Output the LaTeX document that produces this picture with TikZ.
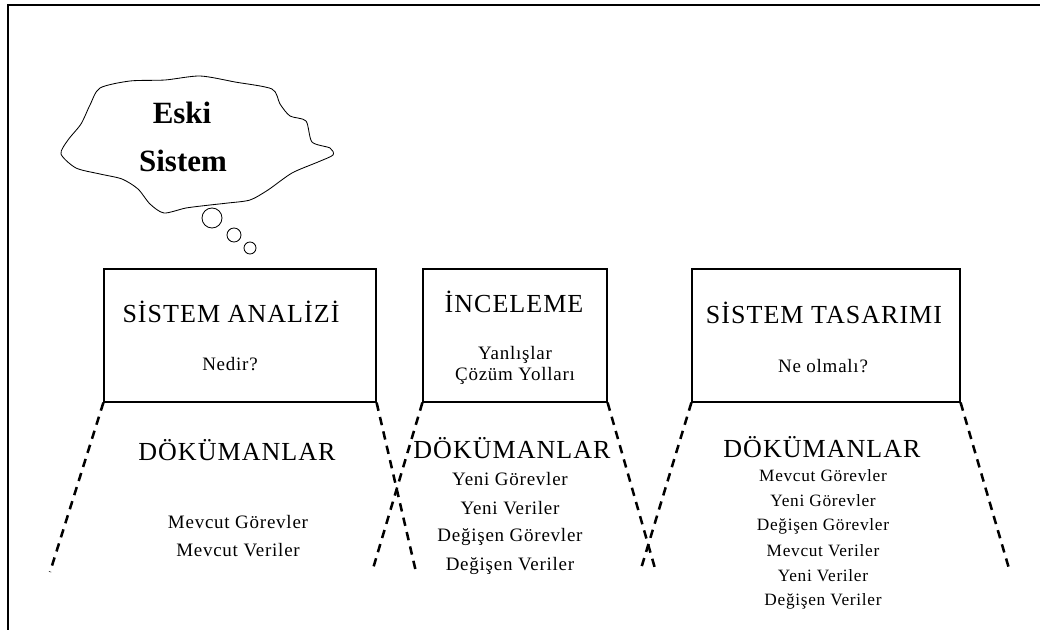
\documentclass[tikz,border=0pt]{standalone}
\usepackage{fontspec}
\setmainfont{Liberation Serif}
\newfontfamily\genis[LetterSpace=4]{Liberation Serif}

\tikzset{
  asama/.style={draw, line width=0.8pt, inner sep=0pt},
  baslik/.style={font=\genis\fontsize{18.5}{21}\selectfont},
  dokuman/.style={font=\genis\fontsize{18.5}{21}\selectfont},
  madde/.style={font=\genis\fontsize{13.5}{16}\selectfont},
  kucuk/.style={font=\genis\fontsize{12.3}{15}\selectfont},
  kesik/.style={line width=1.8pt, dash pattern=on 6pt off 4.5pt},
}

\begin{document}
\begin{tikzpicture}[x=0.025cm, y=-0.025cm]%
\useasboundingbox (0,0) rectangle (1040,630);%
% frame
\draw[line width=1.4pt] (8,630) -- (8,5) -- (1040,5);%
% cloud
\draw[line width=0.6pt] plot[smooth cycle, tension=0.45] coordinates {%
(100,88) (130,81) (165,80) (200,76) (235,82) (272,89) (280,104) (290,116)
(306,121) (312,142) (330,148) (333,155) (318,162) (292,173) (268,190)
(250,200) (228,203) (210,205) (186,208) (164,213) (150,204) (138,189)
(122,179) (100,174) (76,168) (61,154) (68,140) (81,124) (90,105)};%
\node[font=\bfseries\fontsize{22}{26}\selectfont] (eski) at (182,113) {Eski};%
\node[font=\bfseries\fontsize{22}{26}\selectfont] (sistem) at (183,161) {Sistem};%
\draw[line width=0.6pt] (212,218) circle (10);%
\draw[line width=0.6pt] (234,235) circle (7);%
\draw[line width=0.6pt] (250,248) circle (6);%
% boxes
\node[asama, minimum width=6.8cm, minimum height=3.325cm] (analiz) at (240,335.5) {};%
\node[asama, minimum width=4.6cm, minimum height=3.325cm] (inceleme) at (515,335.5) {};%
\node[asama, minimum width=6.7cm, minimum height=3.325cm] (tasarim) at (826,335.5) {};%
\node[baslik] (t1) at (231,312) {SİSTEM ANALİZİ};%
\node[madde] (n1) at (230,364) {Nedir?};%
\node[baslik] (t2) at (514,302) {İNCELEME};%
\node[madde] (n2a) at (515,355) {Yanlışlar};%
\node[madde] (n2b) at (515,376) {Çözüm Yolları};%
\node[baslik] (t3) at (824,313) {SİSTEM TASARIMI};%
\node[madde] (n3) at (823,366) {Ne olmalı?};%
% dashed legs
\coordinate (a1) at (50,572);%
\coordinate (a2) at (416,572);%
\coordinate (b1) at (372,572);%
\coordinate (b2) at (656,572);%
\coordinate (c1) at (640,572);%
\coordinate (c2) at (1010,572);%
\draw[kesik] (analiz.south west) -- (a1);%
\draw[kesik] (analiz.south east) -- (a2);%
\draw[kesik] (inceleme.south west) -- (b1);%
\draw[kesik] (inceleme.south east) -- (b2);%
\draw[kesik] (tasarim.south west) -- (c1);%
\draw[kesik] (tasarim.south east) -- (c2);%
% documents
\node[dokuman] (d1) at (237,450) {DÖKÜMANLAR};%
\node[madde] (d1a) at (238,522) {Mevcut Görevler};%
\node[madde] (d1b) at (238,550) {Mevcut Veriler};%
\node[dokuman] (d2) at (512,448) {DÖKÜMANLAR};%
\node[madde] (d2a) at (510,479) {Yeni Görevler};%
\node[madde] (d2b) at (510,508) {Yeni Veriler};%
\node[madde] (d2c) at (510,537) {Değişen Görevler};%
\node[madde] (d2d) at (510,566) {Değişen Veriler};%
\node[dokuman] (d3) at (822,447) {DÖKÜMANLAR};%
\node[kucuk] (d3a) at (823,476) {Mevcut Görevler};%
\node[kucuk] (d3b) at (823,501) {Yeni Görevler};%
\node[kucuk] (d3c) at (823,526) {Değişen Görevler};%
\node[kucuk] (d3d) at (823,551) {Mevcut Veriler};%
\node[kucuk] (d3e) at (823,576) {Yeni Veriler};%
\node[kucuk] (d3f) at (823,601) {Değişen Veriler};%
\end{tikzpicture}
\end{document}
